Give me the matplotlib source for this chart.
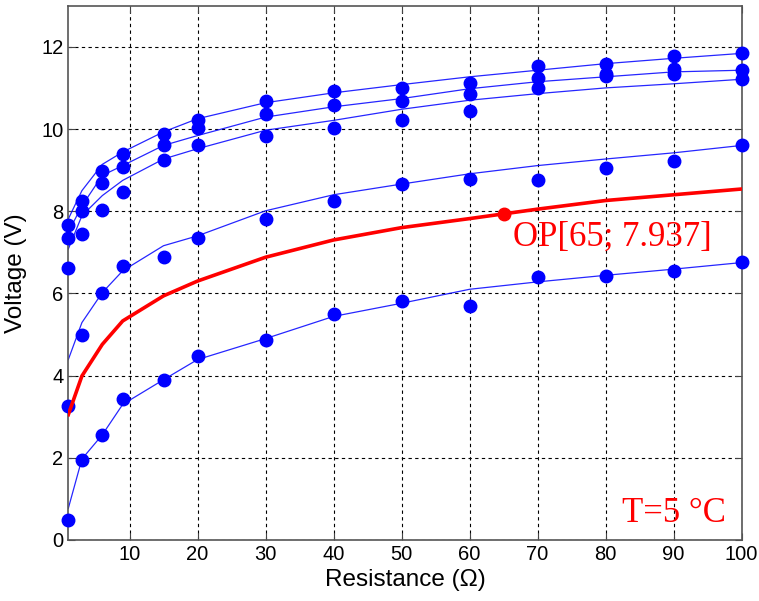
import matplotlib
matplotlib.use("Agg")
import matplotlib.pyplot as plt
import numpy as np

# resistance values (ohm)
res = [1, 3, 6, 9, 15, 20, 30, 40, 50, 60, 70, 80, 90, 100]

# measured voltages, one list per curve (top to bottom)
v_a = [7.67, 8.26, 8.99, 9.38, 9.88, 10.23, 10.68, 10.92, 11.00, 11.11, 11.53, 11.59, 11.78, 11.84]
v_b = [7.36, 8.01, 8.69, 9.07, 9.60, 10.03, 10.37, 10.59, 10.68, 10.86, 11.23, 11.33, 11.46, 11.43]
v_c = [6.61, 7.44, 8.04, 8.46, 9.25, 9.60, 9.84, 10.03, 10.23, 10.43, 11.00, 11.28, 11.35, 11.21]
v_d = [3.25, 5.00, 6.02, 6.67, 6.88, 7.36, 7.81, 8.24, 8.66, 8.79, 8.77, 9.05, 9.23, 9.62]
v_e = [0.49, 1.95, 2.56, 3.44, 3.90, 4.47, 4.86, 5.51, 5.82, 5.69, 6.39, 6.43, 6.55, 6.77]

# fitted curves
fit_a = [7.81, 8.50, 9.14, 9.44, 9.93, 10.25, 10.64, 10.88, 11.08, 11.27, 11.43, 11.59, 11.72, 11.84]
fit_b = [7.49, 8.13, 8.87, 9.11, 9.60, 9.84, 10.29, 10.54, 10.74, 10.98, 11.15, 11.27, 11.39, 11.43]
fit_c = [7.08, 7.89, 8.38, 8.75, 9.27, 9.52, 9.97, 10.21, 10.48, 10.70, 10.86, 11.00, 11.10, 11.21]
fit_d = [4.39, 5.29, 6.02, 6.55, 7.16, 7.40, 8.01, 8.40, 8.66, 8.91, 9.11, 9.27, 9.42, 9.60]
fit_e = [0.77, 1.97, 2.56, 3.30, 3.90, 4.39, 4.90, 5.44, 5.76, 6.10, 6.28, 6.44, 6.59, 6.75]

# operating curve (red)
v_op = [3.05, 3.99, 4.76, 5.33, 5.94, 6.30, 6.88, 7.30, 7.60, 7.82, 8.05, 8.26, 8.40, 8.54]
op_point = (65, 7.937)

fig = plt.figure(figsize=(7.59, 6.01), dpi=100)
ax = fig.add_axes([0.090, 0.1015, 0.887, 0.889])

for fit in [fit_a, fit_b, fit_c, fit_d, fit_e]:
    ax.plot(res, fit, color="blue", lw=0.9, alpha=0.85, zorder=2)
for meas in [v_a, v_b, v_c, v_d, v_e]:
    ax.plot(res, meas, "o", color="blue", ms=9, zorder=3, clip_on=False)

ax.plot(res, v_op, color="red", lw=2.6, zorder=4)
ax.plot(*op_point, "o", color="red", ms=9, zorder=5)

ax.text(66.4, 7.16, "OP[%d; %.3f]" % op_point, color="red",
        family="Liberation Serif", fontsize=25)
ax.text(82.4, 0.45, "T=5 °C", color="red", family="Liberation Serif", fontsize=25)

ax.set_xlim(1, 100)
ax.set_ylim(0, 13)
ax.set_xticks(np.arange(10, 101, 10))
ax.set_yticks(np.arange(0, 13, 2))
ax.grid(True, color="black", linestyle=(0, (3, 3)), lw=0.8)
ax.set_axisbelow(True)
ax.tick_params(direction="in", top=True, right=True, labelsize=14.5,
               length=5, color="#444444")
for lab in ax.get_xticklabels() + ax.get_yticklabels():
    lab.set_family("Liberation Sans")
for sp in ax.spines.values():
    sp.set_color("#555555")
    sp.set_linewidth(1.2)

ax.set_xlabel("Resistance (Ω)", family="Liberation Sans", fontsize=17.5, labelpad=4)
ax.set_ylabel("Voltage (V)", family="Liberation Sans", fontsize=17.5, labelpad=10)

fig.savefig("out.png", dpi=100)
